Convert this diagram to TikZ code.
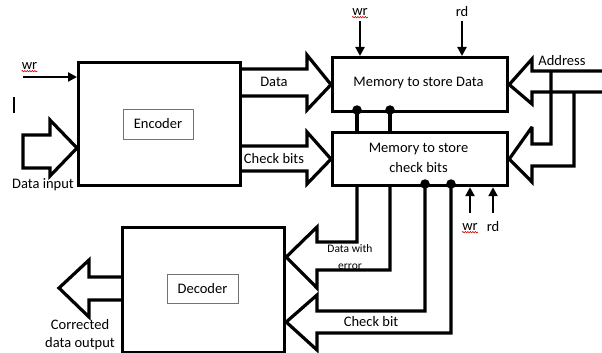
\documentclass[tikz,border=0pt]{standalone}
\usepackage{fontspec}
\setmainfont{Carlito}
\usetikzlibrary{arrows.meta,decorations.pathmorphing}
\begin{document}
\begin{tikzpicture}[x=1pt,y=-1pt,
  box/.style={draw, line width=3.2pt, inner sep=0pt, anchor=north west},
  lbl/.style={draw=black!55, line width=0.8pt, inner sep=0pt, font=\fontsize{14.5}{17}\selectfont},
  txt/.style={inner sep=0pt, align=center, font=\fontsize{14.5}{17}\selectfont},
  small/.style={inner sep=0pt, align=center, font=\fontsize{11.5}{17}\selectfont},
  fat/.style={line width=3.2pt, line join=miter, miter limit=3},
  sig/.style={line width=2.6pt, -{Triangle[length=9pt,width=9pt]}},
  dot/.style={circle, fill, inner sep=0pt, minimum size=9.5pt},
  squiggle/.style={red!80!black, line width=0.6pt, decorate, decoration={snake, amplitude=0.7pt, segment length=2.5pt}}
]
\path[use as bounding box] (0,0) rectangle (602,353);

% boxes
\node[box, minimum width=162pt, minimum height=123pt] (enc) at (77,61) {};
\node[lbl, minimum width=70pt, minimum height=30pt] (enclbl) at (158,124) {Encoder};
\node[box, minimum width=175pt, minimum height=54pt] (memD) at (331,56) {};
\node[txt] (memDt) at (418.5,83) {Memory to store Data};
\node[box, minimum width=175pt, minimum height=53pt] (memC) at (331,131) {};
\node[txt, font=\fontsize{14.5}{20}\selectfont] (memCt) at (418.5,158) {Memory to store\\check bits};
\node[box, minimum width=162pt, minimum height=125pt] (dec) at (121,226) {};
\node[lbl, minimum width=71pt, minimum height=29pt] (declbl) at (202.5,288.5) {Decoder};

% encoder inputs
\node[txt] (wrin) at (29.5,66) {wr};
\draw[squiggle] ([yshift=-1.5pt]wrin.south west) -- ([yshift=-1.5pt]wrin.south east);
\coordinate (wrstart) at (23,77);
\draw[sig] (wrstart) -- (enc.west |- wrstart);
\draw[line width=1.2pt] (14,97) -- (14,113);
\draw[fat] (23,135) -- (50,135) -- (50,120) -- (enc.west |- 0,148) -- (50,176) -- (50,168) -- (23,168) -- cycle;
\node[txt] (din) at (43,185) {Data input};

% encoder -> memories
\draw[fat] (enc.east |- 0,69) -- (307,69) -- (307,55) -- (memD.west) -- (307,110) -- (307,96) -- (enc.east |- 0,96);
\node[txt] (datat) at (274,82) {Data};
\draw[fat] (enc.east |- 0,146) -- (307,146) -- (307,132) -- (memC.west) -- (307,184) -- (307,171) -- (enc.east |- 0,171);
\node[txt] (chkt) at (274,159) {Check bits};

% top control
\node[txt] (wrtop) at (360,12) {wr};
\draw[squiggle] ([yshift=-1.5pt]wrtop.south west) -- ([yshift=-1.5pt]wrtop.south east);
\draw[sig] (360,21) -- (memD.north -| wrtop);
\node[txt] (rdtop) at (462,12) {rd};
\draw[sig] (462,21) -- (memD.north -| rdtop);

% address
\node[txt] (addr) at (562,61) {Address};
\draw[fat] (602,71) -- (532,71) -- (532,59) -- (memD.east) -- (532,104) -- (532,92) -- (602,92);
\draw[fat] (551,71) -- (551,144) -- (532,144) -- (532,127) -- (memC.east) -- (532,182) -- (532,166) -- (574,166) -- (574,92);

% links between memories
\draw[fat] (memD.south -| 357,0) -- (memC.north -| 357,0);
\draw[fat] (memD.south -| 390,0) -- (memC.north -| 390,0);
\node[dot] (d1) at (357,110) {};
\node[dot] (d2) at (390,110) {};

% memories -> decoder
\draw[fat] (memC.south -| 357,0) -- (357,242) -- (317,242) -- (317,227) -- (dec.east |- 0,257) -- (317,288) -- (317,270) -- (390,270) -- (memC.south -| 390,0);
\node[small] (dwe) at (350,257.5) {Data with\\error};
\draw[fat] (memC.south -| 425,0) -- (425,311) -- (317,311) -- (317,295) -- (dec.east |- 0,322) -- (317,350) -- (317,333) -- (451,333) -- (memC.south -| 451,0);
\node[dot] (d3) at (425,184) {};
\node[dot] (d4) at (451,184) {};
\node[txt] (cbit) at (371,322) {Check bit};

% bottom control
\node[txt] (wrbot) at (470,227) {wr};
\draw[squiggle] ([yshift=-1.5pt]wrbot.south west) -- ([yshift=-1.5pt]wrbot.south east);
\draw[sig] (470,213) -- (memC.south -| wrbot);
\node[txt] (rdbot) at (493,227) {rd};
\draw[sig] (493,213) -- (memC.south -| rdbot);

% decoder output
\coordinate (outtip) at (59,288);
\draw[fat] (dec.west |- 0,277) -- (89,277) -- (89,260) -- (outtip) -- (89,317) -- (89,300) -- (dec.west |- 0,300);
\node[txt, font=\fontsize{14.5}{18}\selectfont] (cout) at (80,335) {Corrected\\data output};
\end{tikzpicture}
\end{document}
